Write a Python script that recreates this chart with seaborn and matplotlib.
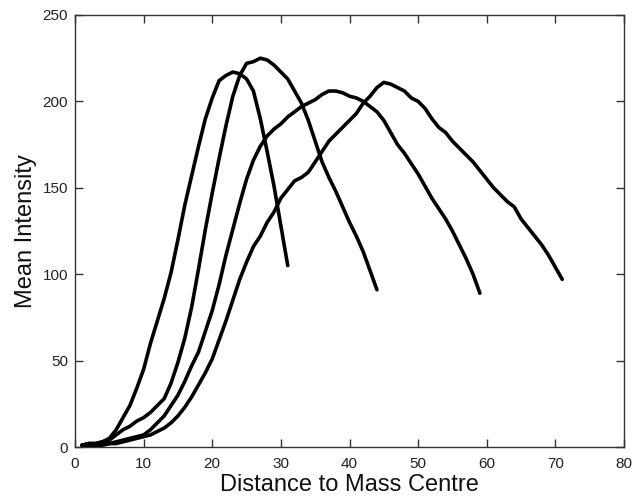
import numpy as np
import pandas as pd
import matplotlib
matplotlib.use("Agg")
import matplotlib.pyplot as plt
import seaborn as sns

# ---- data ----
a_x = list(range(1, 32))
a_y = [1, 2, 2, 3, 5, 10, 17, 24, 34, 45, 60, 73, 86, 101, 120, 140, 157, 174, 190, 202,
       212, 215, 217, 216, 213, 206, 190, 171, 151, 128, 105]

b_x = list(range(1, 45))
b_y = [1, 2, 2, 3, 4, 7, 10, 12, 15, 17, 20, 24, 28, 37, 49, 63, 81, 103, 126, 147,
       167, 186, 203, 215, 222, 223, 225, 224, 221, 217, 213, 206, 199, 189, 177, 165,
       156, 148, 139, 130, 122, 113, 102, 91]

c_x = list(range(1, 60))
c_y = [1, 1, 1, 2, 2, 3, 4, 5, 6, 7, 10, 14, 18, 24, 30, 38, 47, 55, 67, 79,
       94, 111, 126, 141, 155, 166, 174, 180, 184, 187, 191, 194, 197, 199, 201, 204,
       206, 206, 205, 203, 202, 200, 197, 194, 189, 182, 175, 170, 164, 158, 151, 144,
       138, 132, 125, 117, 109, 100, 89]

d_x = list(range(1, 72))
d_y = [1, 1, 1, 1, 2, 2, 3, 4, 5, 6, 7, 9, 11, 14, 18, 23, 29, 36, 43, 51,
       62, 73, 85, 97, 107, 116, 122, 130, 136, 144, 149, 154, 156, 159, 165, 171,
       177, 181, 185, 189, 193, 199, 203, 208, 211, 210, 208, 206, 202, 200, 196, 190,
       185, 182, 177, 173, 169, 165, 160, 155, 150, 146, 142, 139, 132, 127, 122, 117,
       111, 104, 97]

x_ticks = [0, 10, 20, 30, 40, 50, 60, 70, 80]
y_ticks = [0, 50, 100, 150, 200, 250]
x_label = "Distance to Mass Centre"
y_label = "Mean Intensity"

df = pd.concat([
    pd.DataFrame({"x": a_x, "y": a_y, "curve": "A"}),
    pd.DataFrame({"x": b_x, "y": b_y, "curve": "B"}),
    pd.DataFrame({"x": c_x, "y": c_y, "curve": "C"}),
    pd.DataFrame({"x": d_x, "y": d_y, "curve": "D"}),
])

sns.set_style("white")
plt.rcParams["font.family"] = ["Liberation Sans", "DejaVu Sans"]

fig = plt.figure(figsize=(6.32, 4.98), dpi=100)
ax = fig.add_axes([75 / 632, 51 / 498, 549 / 632, 432 / 498])

sns.lineplot(data=df, x="x", y="y", hue="curve", units="curve", estimator=None,
             palette=["black"] * 4, linewidth=2.6, legend=False, ax=ax, sort=False)

ax.set_xlim(0, 80)
ax.set_ylim(0, 250)
ax.set_xticks(x_ticks)
ax.set_yticks(y_ticks)
tick_font = ["Liberation Sans Narrow", "Liberation Sans", "DejaVu Sans"]
ax.set_xticklabels([str(t) for t in x_ticks], family=tick_font, fontsize=11, color="#222222")
ax.set_yticklabels([str(t) for t in y_ticks], family=tick_font, fontsize=11, color="#222222")
ax.tick_params(direction="in", length=6, width=1, color="#333333",
               top=True, right=True, bottom=True, left=True)
ax.tick_params(axis="x", pad=7)
ax.tick_params(axis="y", pad=5)
for s in ax.spines.values():
    s.set_visible(True)
    s.set_color("#333333")
    s.set_linewidth(1)
ax.set_xlabel(x_label, fontsize=17, color="#111111", labelpad=2.5)
ax.set_ylabel(y_label, fontsize=17, color="#111111", labelpad=4)

fig.savefig("out.png", dpi=100, facecolor="white")
